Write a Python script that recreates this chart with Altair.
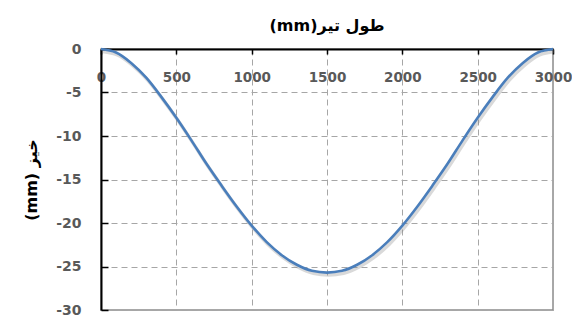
import altair as alt
import pandas as pd

# beam length positions (mm)
positions = [0, 100, 200, 300, 400, 500, 600, 700, 800, 900, 1000,
             1100, 1200, 1300, 1400, 1500, 1600, 1700, 1800, 1900, 2000,
             2100, 2200, 2300, 2400, 2500, 2600, 2700, 2800, 2900, 3000]
# deflection (mm)
deflection = [0.0, -0.4, -1.6, -3.3, -5.5, -7.9, -10.5, -13.2, -15.7, -18.1, -20.3,
              -22.2, -23.7, -24.8, -25.5, -25.7, -25.5, -24.8, -23.7, -22.2, -20.3,
              -18.1, -15.7, -13.2, -10.5, -7.9, -5.5, -3.3, -1.6, -0.4, 0.0]
x_ticks = [0, 500, 1000, 1500, 2000, 2500, 3000]
y_ticks = [0, -5, -10, -15, -20, -25, -30]

x_title = "(mm)طول تیر"
y_title = "(mm) خیز"

df = pd.DataFrame({"x": positions, "y": deflection})

W, H = 452, 261
FONT = "DejaVu Sans"
GRID = "#a6a6a6"

xscale = alt.Scale(domain=[0, 3000], nice=False, zero=False)
yscale = alt.Scale(domain=[-30, 0], nice=False)

x_axis = alt.Axis(
    orient="bottom", offset=-H, values=x_ticks, title=None,
    domain=True, domainColor="black", domainWidth=2,
    ticks=True, tickColor="black", tickSize=5, tickWidth=1.5,
    labels=True, labelFont=FONT, labelFontSize=13.5, labelFontWeight="bold",
    labelColor="#595959", labelPadding=16, labelFlush=False, labelOverlap=False,
    labelExpr="'' + datum.value",
    grid=True, gridColor=GRID, gridDash=[6, 4], gridWidth=1,
)
y_axis_main = alt.Axis(
    orient="left", values=y_ticks, title=y_title,
    titleFont=FONT, titleFontSize=16, titleFontWeight="bold", titleColor="black",
    titlePadding=16,
    domain=True, domainColor="black", domainWidth=2,
    ticks=False, labelPadding=20,
    labelFont=FONT, labelFontSize=14, labelFontWeight="bold", labelColor="#595959",
    labelExpr="'' + datum.value",
    grid=True, gridColor=GRID, gridDash=[6, 4], gridWidth=1,
)
y_axis_ticks = alt.Axis(
    orient="right", offset=-W, values=y_ticks, title=None,
    domain=False, labels=False, grid=False,
    ticks=True, tickColor="black", tickSize=7, tickWidth=1.5,
)

shadow = alt.Chart(df).mark_line(
    color="#808080", opacity=0.3, strokeWidth=3.5, interpolate="monotone",
    xOffset=1.5, yOffset=2.5,
).encode(
    x=alt.X("x:Q", scale=xscale, axis=x_axis),
    y=alt.Y("y:Q", scale=yscale, axis=y_axis_ticks),
)

line = alt.Chart(df).mark_line(
    color="#4a7ebb", strokeWidth=2.6, interpolate="monotone",
).encode(
    x=alt.X("x:Q", scale=xscale, axis=x_axis),
    y=alt.Y("y:Q", scale=yscale, axis=y_axis_main),
)

chart = alt.layer(shadow, line).resolve_axis(y="independent").resolve_scale(y="shared").properties(
    width=W, height=H,
    autosize=alt.AutoSizeParams(type="none"),
    padding={"left": 93, "top": 41, "right": 19, "bottom": 8},
    title=alt.TitleParams(
        text=x_title, font=FONT, fontSize=16, fontWeight="bold", color="black",
        anchor="middle", offset=8,
    ),
).configure_view(stroke="#8c8c8c", strokeWidth=1.5)

chart.save("out.html", embed_options={"renderer": "svg", "actions": False})
